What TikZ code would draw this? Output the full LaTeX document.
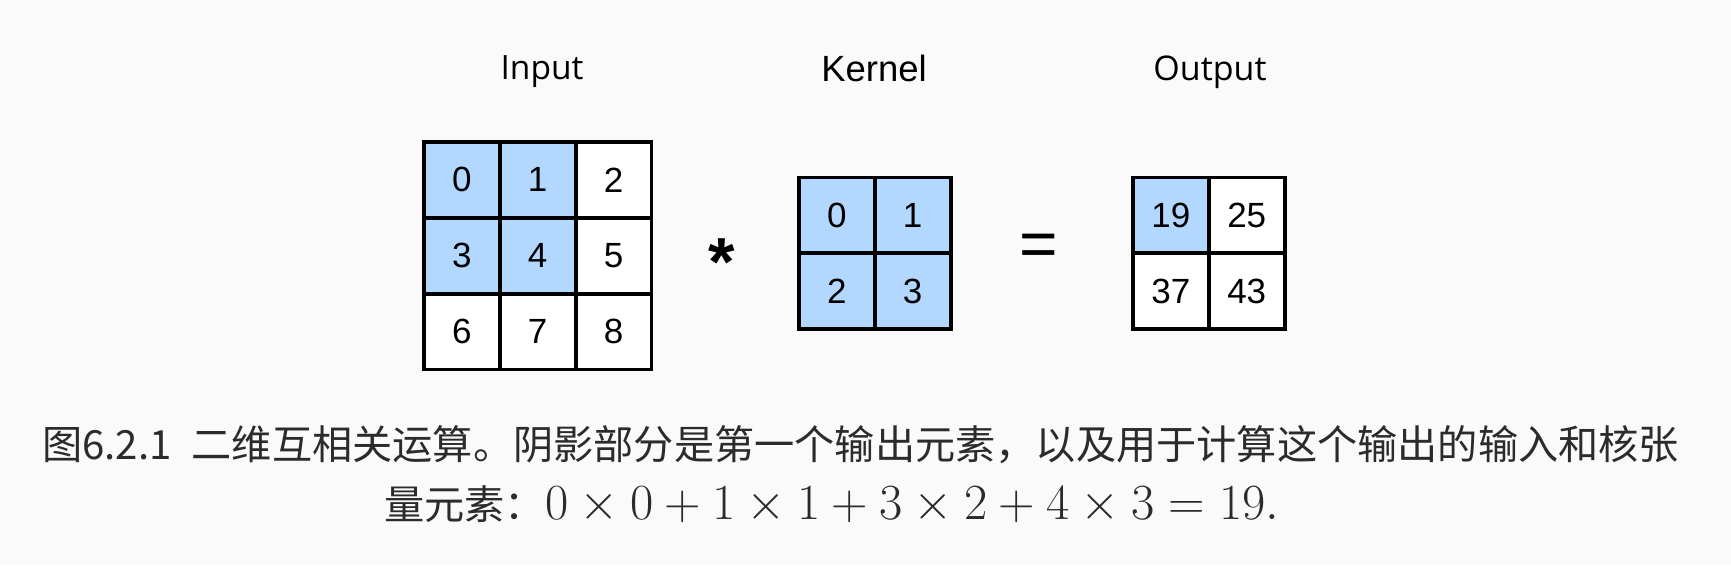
\RequirePackage{fix-cm}
\documentclass[tikz,border=0pt]{standalone}
\usepackage{fontspec}
\newfontfamily\cellfont{Liberation Sans}
\newfontfamily\headfont{Open Sans}
\newfontfamily\cjk{Noto Sans CJK SC}
\definecolor{bgray}{HTML}{FAFAFA}
\definecolor{hotblue}{HTML}{B3D8FF}
\definecolor{captext}{HTML}{2B2B2B}

\begin{document}
\begin{tikzpicture}
  [x=1pt,y=-1pt,
   cell/.style={draw,line width=3.8pt,fill=white,minimum size=75.8pt,inner sep=0pt,
     font=\cellfont\fontsize{35}{35}\selectfont},
   hot/.style={cell,fill=hotblue},
   head/.style={anchor=base,inner sep=0pt,font=\fontsize{33}{33}\selectfont},
   caption line/.style={anchor=base west,inner sep=0pt,text=captext,font=\cjk\fontsize{40.2}{40.2}\selectfont}]
  \fill[bgray] (0,0) rectangle (1731,565);
  \useasboundingbox (0,0) rectangle (1731,565);

  % input
  \foreach \v/\s in {0/hot,1/hot,2/cell,3/hot,4/hot,5/cell,6/cell,7/cell,8/cell}{
    \pgfmathtruncatemacro\col{mod(\v,3)}
    \pgfmathtruncatemacro\row{int(\v/3)}
    \node[\s] (in\v) at ({461.9+75.8*\col},{179.9+75.8*\row}) {\v};
  }
  % kernel
  \foreach \v in {0,...,3}{
    \pgfmathtruncatemacro\col{mod(\v,2)}
    \pgfmathtruncatemacro\row{int(\v/2)}
    \node[hot] (k\v) at ({836.9+75.8*\col},{215.4+75.8*\row}) {\v};
  }
  % output
  \foreach \i/\v/\s in {0/19/hot,1/25/cell,2/37/cell,3/43/cell}{
    \pgfmathtruncatemacro\col{mod(\i,2)}
    \pgfmathtruncatemacro\row{int(\i/2)}
    \node[\s] (out\i) at ({1170.9+75.8*\col},{215.4+75.8*\row}) {\v};
  }

  \node[head,font=\headfont\fontsize{33.5}{33.5}\selectfont] (inhead) at (542,79) {Input};
  \node[head,font=\cellfont\fontsize{36.5}{36.5}\selectfont] (khead) at (874,81) {Kernel};
  \node[head,font=\headfont\fontsize{34}{34}\selectfont] (outhead) at (1210,80) {Output};

  \node[anchor=base,inner sep=0pt,font=\cellfont\bfseries\fontsize{68}{68}\selectfont] (conv) at (722,285) {*};
  \node[inner sep=0pt,font=\cellfont\fontsize{66}{66}\selectfont] (eq) at (1039,250) {=};

  \node[caption line] (cap1) at (42,459)
    {图6.2.1\hspace{20pt}二维互相关运算。阴影部分是第一个输出元素，以及用于计算这个输出的输入和核张};
  \node[caption line] (cap2) at (384,519)
    {量元素：\fontsize{50.6}{50.6}\selectfont$0\times0+1\times1+3\times2+4\times3=19.$};
\end{tikzpicture}
\end{document}
